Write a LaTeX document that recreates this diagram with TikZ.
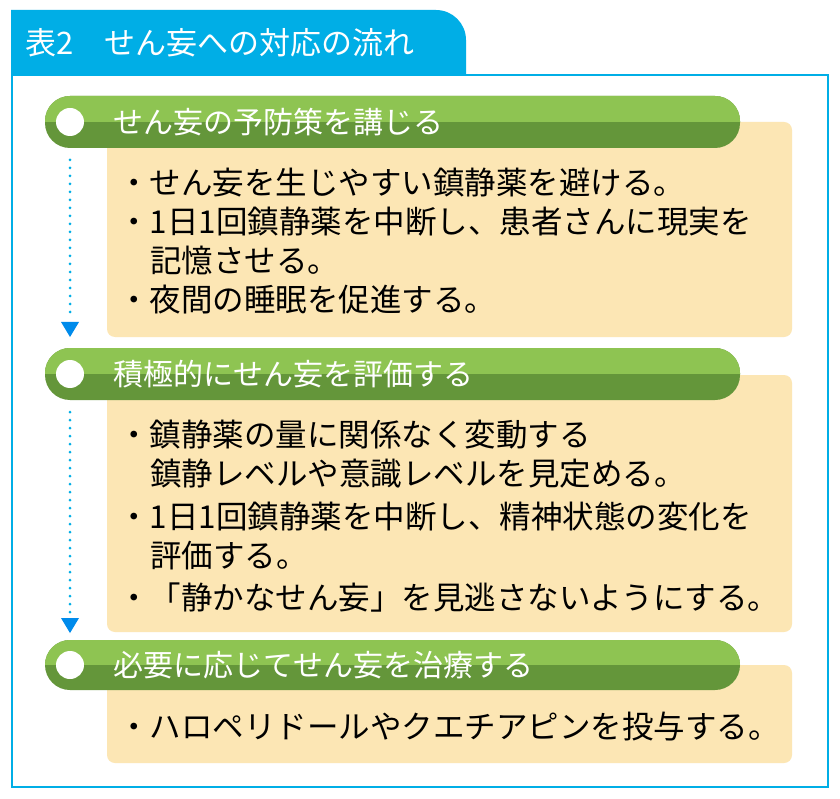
\documentclass[tikz,border=0pt]{standalone}
\usepackage{fontspec}
\setmainfont{Noto Sans CJK JP}
\usetikzlibrary{arrows.meta}
\definecolor{sky}{RGB}{0,174,230}
\definecolor{gtop}{RGB}{142,196,82}
\definecolor{gbot}{RGB}{100,150,58}
\definecolor{beige}{RGB}{252,230,180}
\begin{document}
\begin{tikzpicture}[x=1pt,y=-1pt,
  bar/.style={fill=gbot,draw=none,rounded corners=25pt},
  bartop/.style={fill=gtop,draw=none},
  box/.style={fill=beige,draw=none,rounded corners=8pt},
  head/.style={anchor=west,text=white,font=\fontsize{30}{32}\selectfont},
  line/.style={anchor=west,font=\fontsize{31.5}{34}\selectfont,inner sep=0pt},
  flow/.style={sky,line width=3pt,dash pattern=on 0pt off 8pt,line cap=round},
  tip/.style={fill=sky!80!blue,draw=none}]
\useasboundingbox (0,0) rectangle (840,799);
\fill[white] (0,0) rectangle (840,799);
\draw[sky,line width=2pt] (12,75) rectangle (828,787);
\fill[sky] (11,75) -- (11,10) [rounded corners=30pt]-- (466,10) [sharp corners]-- (466,75) -- cycle;
\node[head,font=\fontsize{31}{32}\selectfont] (title) at (22,43) {表2\quad せん妄への対応の流れ};
% boxes
\fill[box] (107,122) rectangle (792,337);
\fill[box] (107,375) rectangle (792,632);
\fill[box] (107,665) rectangle (792,763);
% bars
\foreach \a/\b in {96/148,348/400,640/690}{
  \fill[bar] (45,\a) rectangle (740,\b);
  \begin{scope}
    \clip[rounded corners=25pt] (45,\a) rectangle (740,\b);
    \fill[bartop] (40,\a-2) rectangle (745,{(\a+\b)/2});
  \end{scope}}
\foreach \y/\n in {122/c1,374/c2,665/c3}{\fill[white] (70,\y) circle (14pt); \coordinate (\n) at (70,\y);}
\node[head] (h1) at (110,122) {せん妄の予防策を講じる};
\node[head] (h2) at (110,374) {積極的にせん妄を評価する};
\node[head] (h3) at (110,665) {必要に応じてせん妄を治療する};
% flows
\coordinate (a1) at (70,160); \coordinate (b1) at (70,318);
\coordinate (a2) at (70,412); \coordinate (b2) at (70,614);
\draw[flow] (a1) -- (b1);
\draw[flow] (a2) -- (b2);
\fill[tip] (61,322) -- (79,322) -- (70,337) -- cycle;
\fill[tip] (61,618) -- (79,618) -- (70,633) -- cycle;
% texts
\node[line] (t11) at (118,183) {・せん妄を生じやすい鎮静薬を避ける。};
\node[line] (t12) at (118,222) {・1日1回鎮静薬を中断し、患者さんに現実を};
\node[line] (t13) at (150,261) {記憶させる。};
\node[line] (t14) at (118,300) {・夜間の睡眠を促進する。};
\node[line] (t21) at (118,435) {・鎮静薬の量に関係なく変動する};
\node[line] (t22) at (150,474) {鎮静レベルや意識レベルを見定める。};
\node[line] (t23) at (118,517) {・1日1回鎮静薬を中断し、精神状態の変化を};
\node[line] (t24) at (150,556) {評価する。};
\node[line] (t25) at (118,598) {・「静かなせん妄」を見逃さないようにする。};
\node[line] (t31) at (118,727) {・ハロペリドールやクエチアピンを投与する。};
\end{tikzpicture}
\end{document}
